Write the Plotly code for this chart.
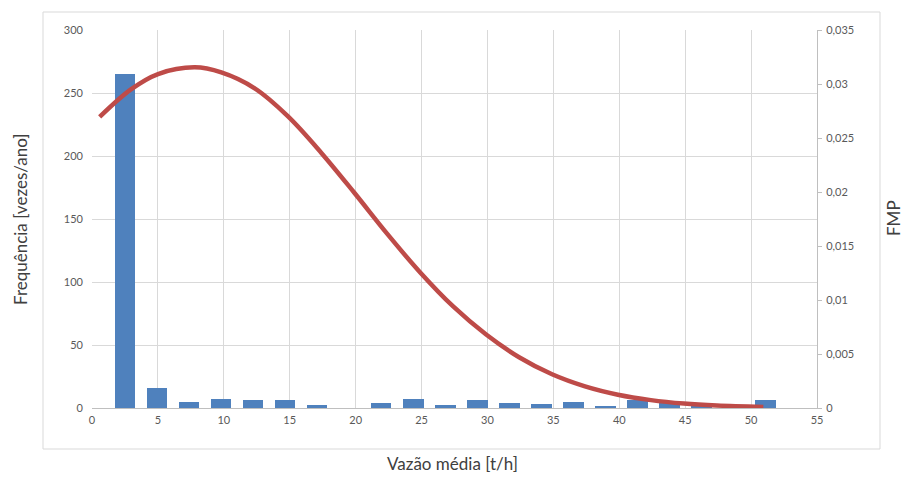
import plotly.graph_objects as go

# Histogram bins (bin centre, t/h) and frequency (vezes/ano)
bin_centers = [2.5, 4.93, 7.36, 9.79, 12.22, 14.65, 17.08, 19.51, 21.94, 24.37,
               26.8, 29.23, 31.66, 34.09, 36.52, 38.95, 41.38, 43.81, 46.24, 48.67, 51.1]
frequency = [265, 16, 5, 7, 6, 6, 2, 0, 4, 7,
             2, 6, 4, 3, 5, 1, 6, 4, 4, 2, 6]

# FMP curve points
fmp_x = [0.58, 2.98, 5.01, 7.79, 9.81, 12.34, 14.87, 17.4, 19.9, 22.4,
         24.9, 27.4, 29.9, 32.4, 34.9, 37.4, 39.9, 42.4, 44.9, 47.4, 50.93]
fmp_y = [0.02695, 0.02952, 0.03092, 0.03154, 0.03107, 0.02960, 0.02700, 0.02362, 0.01993, 0.01612,
         0.01255, 0.00940, 0.00680, 0.00470, 0.00312, 0.00200, 0.00123, 0.00073, 0.00041, 0.00023,
         0.00010]

x_ticks = [0, 5, 10, 15, 20, 25, 30, 35, 40, 45, 50, 55]
y_ticks = [0, 50, 100, 150, 200, 250, 300]
y2_ticks = [0, 0.005, 0.01, 0.015, 0.02, 0.025, 0.03, 0.035]
y2_labels = ["0", "0,005", "0,01", "0,015", "0,02", "0,025", "0,03", "0,035"]

FONT = "Lato, Carlito, 'Liberation Sans', sans-serif"
TICK = dict(family=FONT, size=11, color="#595959")
GRID = "#D9D9D9"

fig = go.Figure()
fig.add_trace(go.Bar(x=bin_centers, y=frequency, width=1.56,
                     marker=dict(color="#4F81BD", line=dict(width=0)),
                     showlegend=False, yaxis="y"))
fig.add_trace(go.Scatter(x=fmp_x, y=fmp_y, mode="lines",
                         line=dict(color="#BE4B48", width=4.5, shape="spline", smoothing=1.0),
                         showlegend=False, yaxis="y2"))

fig.update_layout(
    width=906, height=477,
    margin=dict(l=92, r=89, t=30, b=69),
    paper_bgcolor="white", plot_bgcolor="white",
    bargap=0,
    xaxis=dict(range=[0, 55], tickvals=x_ticks, ticktext=[str(v) for v in x_ticks],
               showgrid=True, gridcolor=GRID, gridwidth=1,
               showline=True, linecolor="#BFBFBF", linewidth=1,
               zeroline=False, ticks="", tickfont=TICK, ticklabelstandoff=2),
    yaxis=dict(range=[0, 300], tickvals=y_ticks, ticktext=[str(v) for v in y_ticks],
               showgrid=True, gridcolor=GRID, gridwidth=1,
               showline=False, zeroline=False, ticks="", tickfont=TICK,
               ticklabelstandoff=8),
    yaxis2=dict(range=[0, 0.035], tickvals=y2_ticks, ticktext=y2_labels,
                overlaying="y", side="right", showgrid=False, zeroline=False,
                showline=True, linecolor="#BFBFBF", linewidth=1,
                ticks="outside", ticklen=4, tickcolor="#BFBFBF",
                tickfont=TICK, ticklabelstandoff=2),
    shapes=[dict(type="rect", xref="paper", yref="paper",
                 x0=(43 - 92) / 725, x1=(880 - 92) / 725,
                 y0=(408 - 449) / 378, y1=(408 - 12) / 378,
                 line=dict(color="#D9D9D9", width=1), fillcolor="rgba(0,0,0,0)",
                 layer="below")],
    annotations=[
        dict(text="Frequência [vezes/ano]", xref="paper", yref="paper",
             x=(20 - 92) / 725, y=(408 - 220) / 378, textangle=-90, showarrow=False,
             xanchor="center", yanchor="middle",
             font=dict(family=FONT, size=17, color="#404040")),
        dict(text="FMP", xref="paper", yref="paper",
             x=(893 - 92) / 725, y=(408 - 218) / 378, textangle=-90, showarrow=False,
             xanchor="center", yanchor="middle",
             font=dict(family=FONT, size=17, color="#404040")),
        dict(text="Vazão média [t/h]", xref="paper", yref="paper",
             x=(452 - 92) / 725, y=(408 - 463) / 378, showarrow=False,
             xanchor="center", yanchor="middle",
             font=dict(family=FONT, size=17, color="#404040")),
    ],
)

fig.write_html("out.html")
